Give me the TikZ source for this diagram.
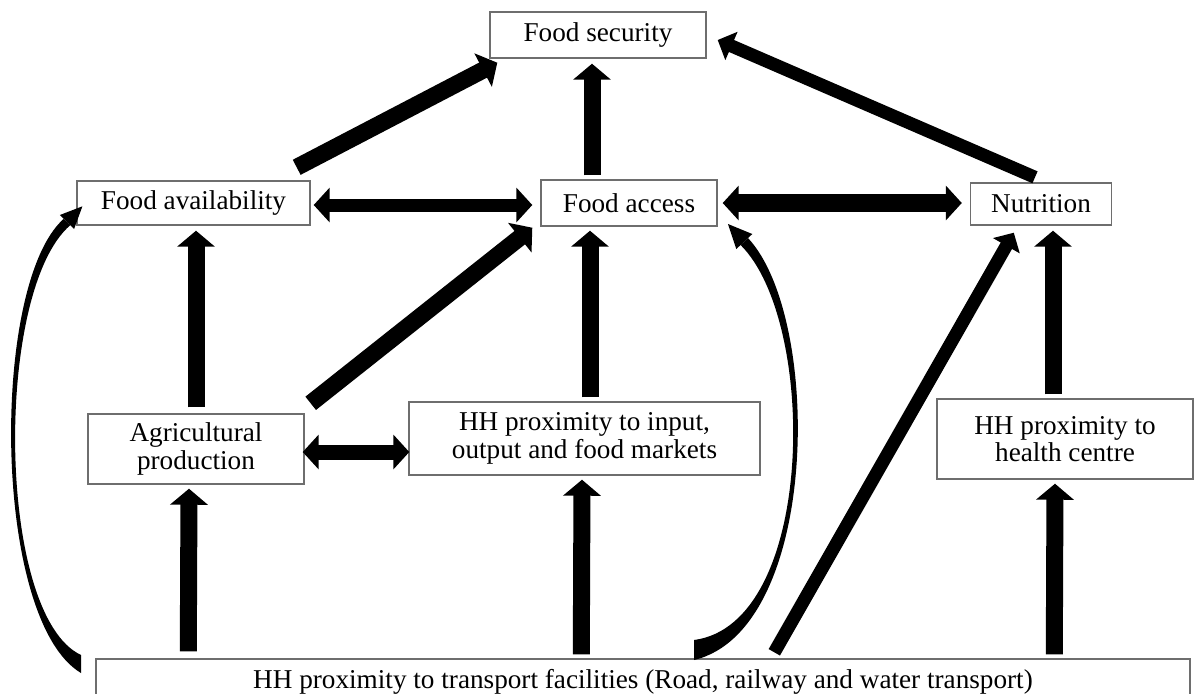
\documentclass[tikz,border=0pt]{standalone}
\usepackage{fontspec}
\setmainfont{Liberation Serif}
\usetikzlibrary{arrows.meta,calc}
\definecolor{boxgray}{RGB}{110,110,110}
\newcommand\fszbox{\fontsize{13.6}{13.8}\selectfont}
\begin{document}
\begin{tikzpicture}[x=0.5pt,y=-0.5pt,
  box/.style={draw=boxgray, line width=0.7pt, fill=white, inner sep=0pt, align=center, font=\fszbox},
  bigarr/.style={line width=8.5pt, -{Triangle[width=18.5pt,length=8pt]}},
  midarr/.style={line width=6.5pt, -{Triangle[width=15pt,length=7.5pt]}},
  dblarr/.style={line width=#1, {Triangle[width=17pt,length=8pt]}-{Triangle[width=17pt,length=8pt]}},
]
\useasboundingbox (0,0) rectangle (1196,693);

% boxes
\node[box, minimum width=108pt, minimum height=23pt] (fs) at (598,35) {Food security};
\node[box, minimum width=116.5pt, minimum height=22pt] (fa) at (193.5,203) {Food availability};
\node[box, minimum width=88pt, minimum height=23pt] (fac) at (629,203) {Food access};
\node[box, minimum width=70.5pt, minimum height=21pt] (nut) at (1041,204) {Nutrition};
\node[box, minimum width=108pt, minimum height=35pt] (agri) at (196,449) {Agricultural\\production};
\node[box, minimum width=175.5pt, minimum height=36.5pt] (hhm) at (584.5,438.5) {HH proximity to input,\\output and food markets};
\node[box, minimum width=128pt, minimum height=40pt] (hhh) at (1065,439) {HH proximity to\\health centre};
\node[box, minimum width=547pt, minimum height=23pt] (trans) at (643,682) {HH proximity to transport facilities (Road, railway and water transport)};

% straight connectors
\draw[bigarr] ([shift={(-14,-13)}]fa.north east) -- ([shift={(8,4)}]fs.south west);
\draw[bigarr] ([shift={(-37,-4)}]fac.north) -- ([shift={(-6,5)}]fs.south);
\draw[midarr] ([shift={(-6,-5)}]nut.north) -- ([shift={(11,5)}]fs.east);
\draw[dblarr=6.5pt] ([shift={(3,2)}]fa.east) -- ([shift={(-8,2)}]fac.west);
\draw[dblarr=9pt] ([shift={(5,0)}]fac.east) -- ([shift={(-8,-1)}]nut.west);
\draw[bigarr] ([shift={(0,-6)}]agri.north) -- ([shift={(2.5,5)}]fa.south);
\draw[bigarr] ([shift={(6,-10)}]agri.north east) -- ([shift={(-8,1)}]fac.south west);
\draw[bigarr] ([shift={(5.5,-4)}]hhm.north) -- ([shift={(-39,4)}]fac.south);
\draw[bigarr] ([shift={(-12,-4)}]hhh.north) -- ([shift={(12,5)}]nut.south);
\draw[dblarr=7.5pt] ([shift={(-2,3)}]agri.east) -- ([shift={(1,13.5)}]hhm.west);
\draw[bigarr] ([shift={(93,-7)}]trans.north west) -- ([shift={(-7,4)}]agri.south);
\draw[bigarr] ([shift={(486,-4)}]trans.north west) -- ([shift={(-2.5,4)}]hhm.south);
\draw[bigarr] ([shift={(959,-4)}]trans.north west) -- ([shift={(-10,4)}]hhh.south);
\draw[midarr] ([shift={(679,-6)}]trans.north west) -- ([shift={(44,7)}]nut.south west);

% curved tapered connectors
\fill (81,673) .. controls (-8,620) and (-10,285) .. (63.5,219) -- (70.5,225) .. controls (-6,290) and (-4,615) .. (81,655) -- cycle;
\fill (59.9,215) -- (82.4,206.3) -- (74.1,229) -- cycle;
\fill (694,660) .. controls (820,630) and (822.8,318.3) .. (748,238) -- (740.6,245) .. controls (818,322) and (816,624) .. (694,640) -- cycle;
\fill (752.3,234) -- (728,224) -- (736.3,249) -- cycle;
\end{tikzpicture}
\end{document}
